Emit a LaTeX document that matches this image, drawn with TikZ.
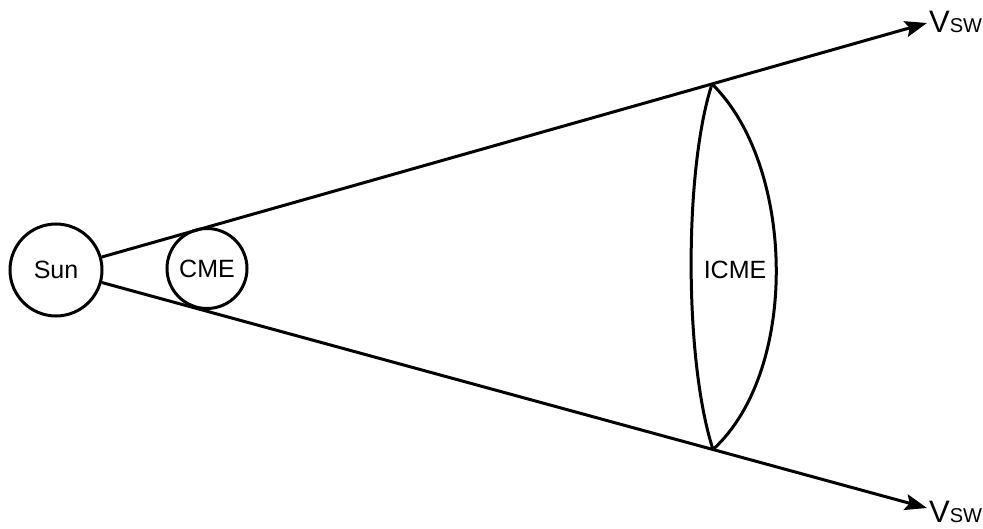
\documentclass[tikz,border=0pt]{standalone}
\usepackage{fontspec}
\setmainfont{Liberation Sans}
\usetikzlibrary{arrows.meta}
\begin{document}
\begin{tikzpicture}[x=1pt,y=-1pt,
  body/.style={circle,draw,line width=3pt,inner sep=0pt,font=\fontsize{25}{25}\selectfont},
  ray/.style={line width=3pt,-{Stealth[length=22pt,width=16pt,inset=4pt]}},
  rim/.style={line width=3pt},
  lbl/.style={inner sep=0pt,font=\fontsize{25}{25}\selectfont},
  vlbl/.style={inner sep=0pt,anchor=base west}]
\useasboundingbox (0,0) rectangle (983,529);
\node[body,minimum size=92pt] (sun) at (56,270) {Sun};
\node[body,minimum size=80pt] (cme) at (207,268.5) {CME};
\coordinate (tipU) at (927,23);
\coordinate (tipL) at (927,508);
\draw[ray] (sun) -- (tipU);
\draw[ray] (sun) -- (tipL);
\coordinate (icmeT) at (712,84);
\coordinate (icmeB) at (713,449.5);
\draw[rim] (icmeT) .. controls (684,170) and (684,360) .. (icmeB);
\draw[rim] (icmeT) .. controls (795,165) and (800,370) .. (icmeB);
\node[lbl] (icme) at (735,270) {ICME};
\node[vlbl] (vu) at (929,33) {{\fontsize{31}{31}\selectfont V}{\fontsize{20}{20}\selectfont SW}};
\node[vlbl] (vl) at (929,522) {{\fontsize{31}{31}\selectfont V}{\fontsize{20}{20}\selectfont SW}};
\end{tikzpicture}
\end{document}
